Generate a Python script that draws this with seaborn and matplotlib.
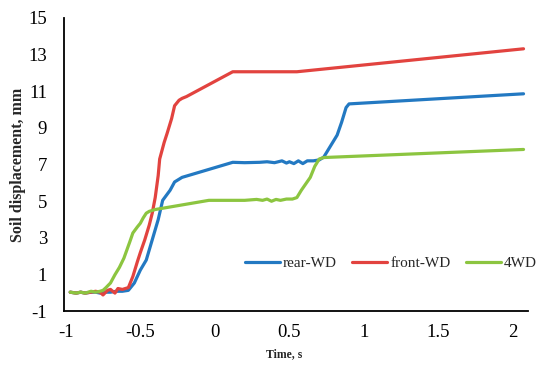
import numpy as np
import pandas as pd
import matplotlib
matplotlib.use("Agg")
import matplotlib.pyplot as plt
import seaborn as sns

rear_t = [-0.97, -0.93, -0.90, -0.87, -0.83, -0.80, -0.77, -0.74, -0.70, -0.66, -0.62, -0.58, -0.54,
          -0.50, -0.46, -0.42, -0.38, -0.35, -0.30, -0.27, -0.22, 0.12, 0.20, 0.30, 0.35, 0.40, 0.45,
          0.48, 0.50, 0.53, 0.56, 0.59, 0.62, 0.66, 0.70, 0.73, 0.76, 0.79, 0.82, 0.85, 0.88, 0.90, 2.07]
rear_v = [0.05, 0.0, 0.05, 0.0, 0.05, 0.05, 0.0, 0.05, 0.05, 0.1, 0.1, 0.15, 0.55,
          1.25, 1.8, 2.9, 4.0, 5.05, 5.6, 6.05, 6.3, 7.12, 7.1, 7.12, 7.15, 7.1, 7.2,
          7.08, 7.15, 7.05, 7.2, 7.05, 7.2, 7.2, 7.25, 7.4, 7.8, 8.2, 8.6, 9.3, 10.1, 10.3, 10.85]

front_t = [-0.97, -0.93, -0.90, -0.87, -0.83, -0.80, -0.77, -0.75, -0.72, -0.70, -0.67, -0.65, -0.62,
           -0.58, -0.55, -0.52, -0.50, -0.47, -0.44, -0.42, -0.40, -0.38, -0.37, -0.34, -0.32, -0.29,
           -0.27, -0.24, -0.22, -0.19, 0.12, 0.55, 2.07]
front_v = [0.05, 0.0, 0.05, 0.0, 0.05, 0.1, 0.05, -0.1, 0.15, 0.2, 0.0, 0.25, 0.2,
           0.3, 0.9, 1.7, 2.2, 2.9, 3.7, 4.35, 5.2, 6.4, 7.3, 8.2, 8.7, 9.5,
           10.2, 10.5, 10.6, 10.7, 12.05, 12.05, 13.3]

awd_t = [-0.97, -0.93, -0.90, -0.87, -0.83, -0.80, -0.77, -0.75, -0.73, -0.70, -0.67, -0.64, -0.61,
         -0.59, -0.57, -0.55, -0.52, -0.50, -0.48, -0.46, -0.44, -0.40, -0.04, 0.10, 0.20, 0.28,
         0.32, 0.35, 0.38, 0.41, 0.44, 0.48, 0.52, 0.55, 0.58, 0.61, 0.64, 0.67, 0.70, 0.73, 2.07]
awd_v = [0.05, 0.0, 0.05, 0.0, 0.1, 0.05, 0.1, 0.15, 0.3, 0.55, 1.0, 1.4, 1.9,
         2.35, 2.8, 3.27, 3.6, 3.8, 4.1, 4.35, 4.45, 4.55, 5.05, 5.05, 5.05, 5.1,
         5.05, 5.12, 5.0, 5.1, 5.05, 5.12, 5.12, 5.2, 5.6, 5.95, 6.3, 6.9, 7.3, 7.38, 7.82]

labels = ["rear-WD", "front-WD", "4WD"]
colors = ["#2379C2", "#E2433F", "#8CC540"]
xtick_labels = ["-1", "-0.5", "0", "0.5", "1", "1.5", "2"]

df = pd.concat([
    pd.DataFrame({"t": rear_t, "v": rear_v, "s": labels[0]}),
    pd.DataFrame({"t": front_t, "v": front_v, "s": labels[1]}),
    pd.DataFrame({"t": awd_t, "v": awd_v, "s": labels[2]}),
], ignore_index=True)

sns.set_style("white")
plt.rcParams["font.family"] = ["Liberation Serif", "DejaVu Serif"]
plt.rcParams["axes.unicode_minus"] = False

fig = plt.figure(figsize=(5.5, 3.66), dpi=100)
ax = fig.add_axes([0.116, 0.149, 0.844, 0.803])
sns.lineplot(data=df, x="t", y="v", hue="s", palette=colors, hue_order=labels,
             sort=False, estimator=None, linewidth=2.3, ax=ax)

ax.set_xlim(-1.013, 2.10)
ax.set_ylim(-1, 15)
ax.set_yticks(np.arange(-1, 16, 2))
ax.set_xticks([-1, -0.5, 0, 0.5, 1, 1.5, 2])
ax.set_xticklabels(xtick_labels)
ax.tick_params(axis="both", labelsize=13.5, length=0, colors="black")
ax.tick_params(axis="y", pad=12)
ax.tick_params(axis="x", pad=9)
for sp in ["top", "right"]:
    ax.spines[sp].set_visible(False)
for sp in ["left", "bottom"]:
    ax.spines[sp].set_color("black")
    ax.spines[sp].set_linewidth(1.3)

ax.set_ylabel("Soil displacement, mm", fontsize=11.5, fontweight="bold")
ax.yaxis.set_label_coords(-0.082, 0.5)
ax.set_xlabel("Time, s", fontsize=8.5, fontweight="bold")
ax.xaxis.set_label_coords(0.475, -0.125)

leg = ax.legend(loc="center left", bbox_to_anchor=(0.39, 0.163), ncol=3, frameon=False,
                fontsize=11, handlelength=2.3, columnspacing=1.0, handletextpad=0.2,
                borderpad=0, borderaxespad=0)

fig.savefig("out.png", dpi=100)
